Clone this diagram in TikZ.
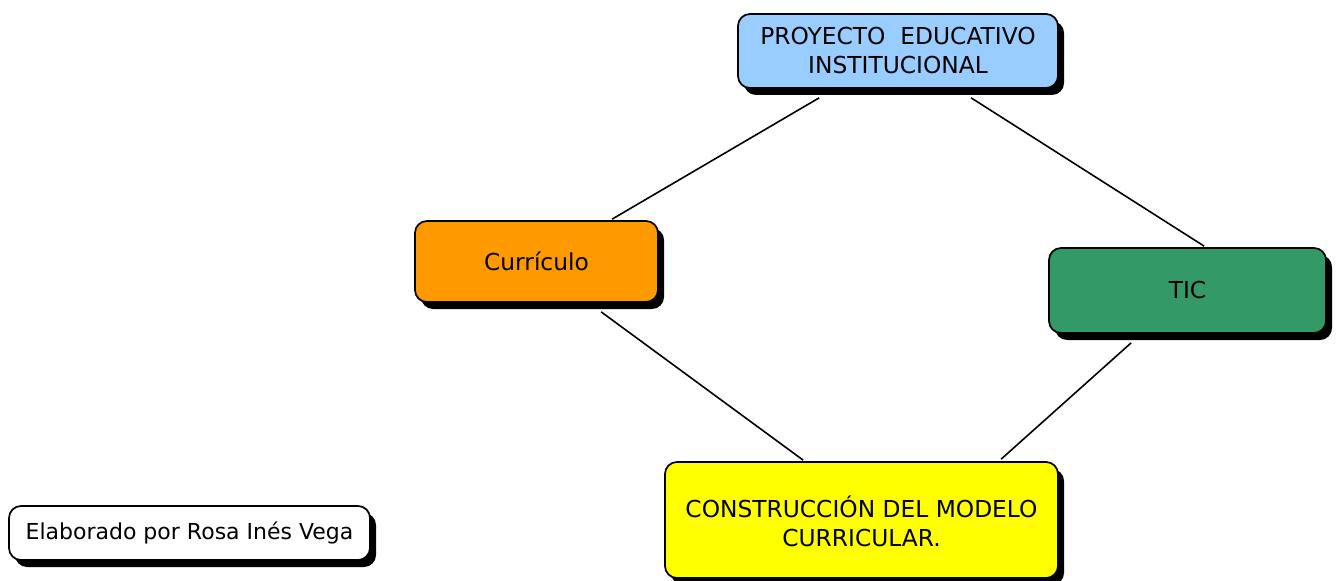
\documentclass[tikz,border=0pt]{standalone}
\usepackage{fontspec}
\setmainfont{DejaVu Sans}
\usetikzlibrary{shadows,calc}
\definecolor{peiblue}{HTML}{99CCFF}
\definecolor{curorange}{HTML}{FF9900}
\definecolor{ticgreen}{HTML}{339966}
\definecolor{conyellow}{HTML}{FFFF00}
\tikzset{
  box/.style={draw=black, line width=1.3pt, rounded corners=9pt, align=center, inner sep=0pt,
    font=\fontsize{17.5}{21.75}\selectfont,
    drop shadow={shadow xshift=4.5pt, shadow yshift=-5.25pt, fill=black, opacity=1}},
  link/.style={draw=black, line width=1.2pt}
}
\begin{document}
\begin{tikzpicture}[x=0.75pt,y=-0.75pt]
\useasboundingbox (0,0) rectangle (1342,581);
\node[box, fill=peiblue, minimum width=240pt, minimum height=55.5pt] (pei) at (898,51) {PROYECTO\ \ EDUCATIVO\\INSTITUCIONAL};
\node[box, fill=curorange, minimum width=182.25pt, minimum height=60.75pt] (cur) at (536.5,261.5) {Currículo};
\node[box, fill=ticgreen, minimum width=207.75pt, minimum height=63.75pt] (tic) at (1187.5,290.5) {TIC};
\node[box, fill=conyellow, minimum width=294.75pt, minimum height=87pt] (con) at (861.5,520) {\rule{0pt}{18pt}CONSTRUCCIÓN DEL MODELO\\CURRICULAR.};
\node[box, fill=white, minimum width=270.75pt, minimum height=40.5pt, font=\fontsize{16.5}{20}\selectfont] (ela) at (189.5,533) {Elaborado por Rosa Inés Vega};
\draw[link] ($(pei.south west)+(82,9)$) -- ($(cur.north west)+(198,-1)$);
\draw[link] ($(pei.south west)+(234,9)$) -- ($(tic.north west)+(156,-1)$);
\draw[link] ($(cur.south west)+(187,9)$) -- ($(con.north west)+(139,-1)$);
\draw[link] ($(tic.south west)+(83,9)$) -- ($(con.north west)+(337,-2)$);
\end{tikzpicture}
\end{document}
